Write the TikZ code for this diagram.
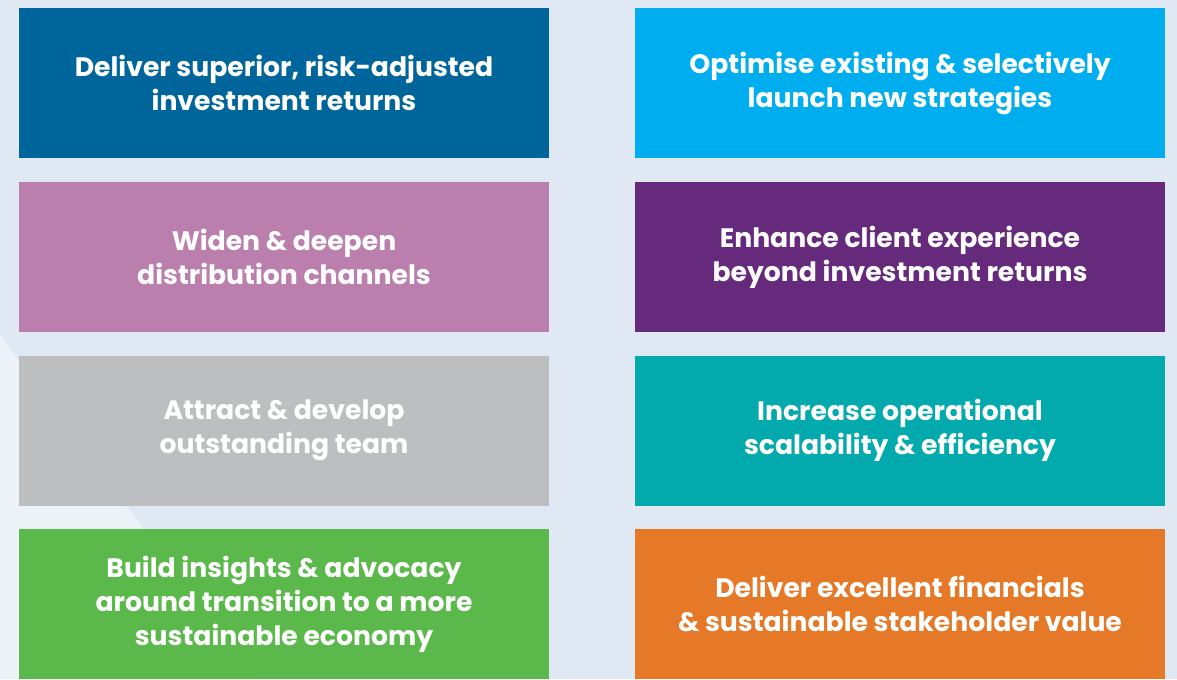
\documentclass[tikz,border=0pt]{standalone}
\usepackage{fontspec}
\setmainfont{Poppins}
\definecolor{bgpanel}{HTML}{DFE8F3}
\definecolor{bglight}{HTML}{EDF2F9}
\definecolor{navy}{HTML}{00659A}
\definecolor{sky}{HTML}{00AEEF}
\definecolor{orchid}{HTML}{BB7FAE}
\definecolor{plum}{HTML}{662A7C}
\definecolor{stone}{HTML}{BDBEC0}
\definecolor{teal}{HTML}{02AAAD}
\definecolor{leaf}{HTML}{5AB94A}
\definecolor{amber}{HTML}{E57928}

\begin{document}
\begin{tikzpicture}[x=0.75pt, y=-0.75pt,
  every node/.style={rectangle, minimum width=397.5pt, minimum height=112.5pt, inner sep=0pt,
    text=white, align=center, font=\fontsize{20}{25.5}\selectfont\bfseries}]
  \useasboundingbox (0,0) rectangle (1177,679);
  \clip (0,0) rectangle (1177,679);
  \fill[bgpanel] (0,0) rectangle (1177,679);
  \fill[bglight] (0,335) -- (255,679) -- (0,679) -- cycle;
  \node[fill=navy] (deliver) at (284,83) {Deliver superior, risk-adjusted\\investment returns};
  \node[fill=sky] (optimise) at (900,83) {Optimise existing \& selectively\\launch new strategies};
  \node[fill=orchid] (widen) at (284,257) {Widen \& deepen\\distribution channels};
  \node[fill=plum] (enhance) at (900,257) {Enhance client experience\\beyond investment returns};
  \node[fill=stone] (attract) at (284,430.5) {Attract \& develop\\outstanding team};
  \node[fill=teal] (increase) at (900,430.5) {Increase operational\\scalability \& efficiency};
  \node[fill=leaf] (build) at (284,604) {Build insights \& advocacy\\around transition to a more\\sustainable economy};
  \node[fill=amber] (financials) at (900,604) {Deliver excellent financials\\\& sustainable stakeholder value};
\end{tikzpicture}
\end{document}
